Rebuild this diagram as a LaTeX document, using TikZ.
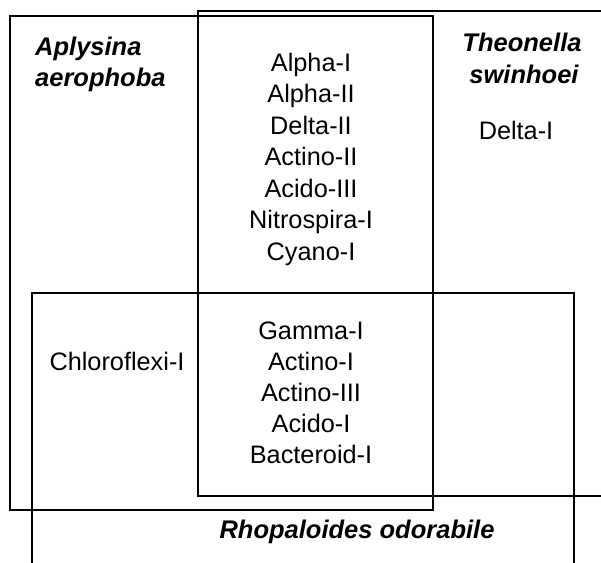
\documentclass[tikz,border=0pt]{standalone}
\usepackage{fontspec}
\setmainfont{Liberation Sans}
\begin{document}
\begin{tikzpicture}[x=1pt,y=-1pt,
  box/.style={line width=2pt, draw=black},
  lab/.style={anchor=base, inner sep=0pt, font=\fontsize{25.3}{28}\selectfont},
  spec/.style={anchor=base, inner sep=0pt, font=\fontsize{25.5}{28}\selectfont\bfseries\itshape}]
\clip (0,0) rectangle (601,562);
\fill[white] (0,0) rectangle (601,562);
% sponge sets
\draw[box] (10,16) rectangle (433,510);
\draw[box] (198,11) rectangle (640,496);
\draw[box] (32,293) rectangle (574,640);
% species names
\node[spec, anchor=base west] (ap1) at (35,55) {Aplysina};
\node[spec, anchor=base west] (ap2) at (35,86) {aerophoba};
\node[spec] (th1) at (522,51) {Theonella};
\node[spec] (th2) at (524,83) {swinhoei};
\node[spec] (rh) at (357,538) {Rhopaloides odorabile};
% A and T
\node[lab] (a1) at (311,71) {Alpha-I};
\node[lab] (a2) at (311,102.5) {Alpha-II};
\node[lab] (a3) at (311,134) {Delta-II};
\node[lab] (a4) at (311,165.5) {Actino-II};
\node[lab] (a5) at (311,197) {Acido-III};
\node[lab] (a6) at (311,228.5) {Nitrospira-I};
\node[lab] (a7) at (311,260) {Cyano-I};
% T only
\node[lab] (t1) at (516,139) {Delta-I};
% A only with R
\node[lab] (c1) at (117,370) {Chloroflexi-I};
% A, T and R
\node[lab] (b1) at (311,339) {Gamma-I};
\node[lab] (b2) at (311,370) {Actino-I};
\node[lab] (b3) at (311,401) {Actino-III};
\node[lab] (b4) at (311,432) {Acido-I};
\node[lab] (b5) at (311,463) {Bacteroid-I};
\end{tikzpicture}
\end{document}
